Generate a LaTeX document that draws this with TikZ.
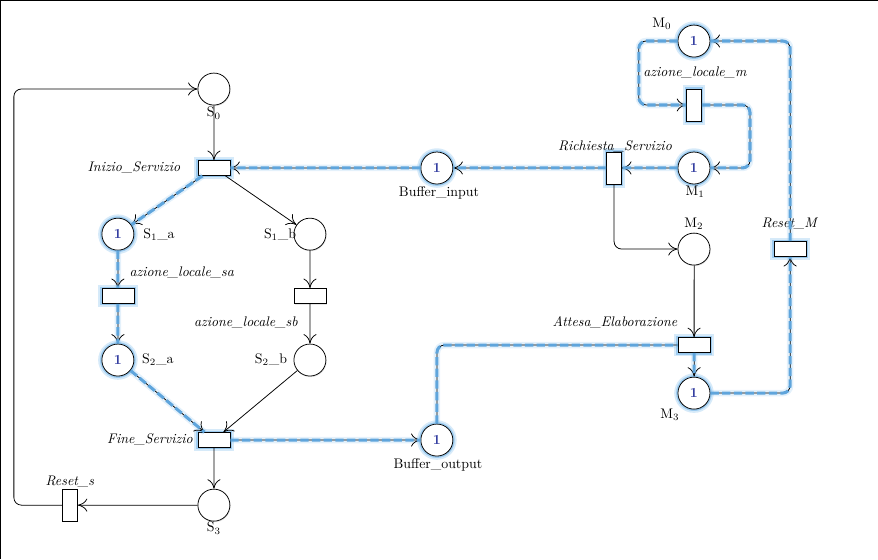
\documentclass[tikz,border=0pt]{standalone}
\usepackage{tikz}
\usetikzlibrary{shapes, positioning, arrows.meta, shadows}

\definecolor{glow}{RGB}{120,185,235}
\definecolor{dashblue}{RGB}{95,165,220}
\definecolor{tokblue}{RGB}{50,60,160}

\begin{document}
\begin{tikzpicture}[scale=1.35, line width=0.55pt, >={To[length=2.4mm, width=3.3mm]},
    place/.style={circle, draw, fill=white, minimum size=8.1mm, inner sep=0pt, drop shadow={opacity=0.2, shadow xshift=0.5pt, shadow yshift=-0.8pt}},
    transh/.style={rectangle, draw, fill=white, minimum width=8.1mm, minimum height=3.8mm, inner sep=0pt, drop shadow={opacity=0.2, shadow xshift=0.5pt, shadow yshift=-0.8pt}},
    transv/.style={transh, minimum width=3.8mm, minimum height=8.1mm},
    active/.style={preaction={draw=glow, line width=5.4pt, opacity=0.3}, preaction={draw=glow, line width=2.7pt, opacity=0.6}},
    tok/.style={text=tokblue, font=\bfseries},
    lbl/.style={inner sep=0pt},
    hl/.style={->, preaction={draw=glow, line width=4.7pt, opacity=0.2, -}, postaction={draw=dashblue, line width=2.2pt, dash pattern=on 6pt off 2.4pt, -}}]
        \useasboundingbox (0,0) rectangle (16.46,10.48);
        \draw[line width=1.1pt] (0,0) -- (0,10.48) -- (16.46,10.48);

        % servizio
        \node[place] (s0) at (4.01, 8.81) {};
        \node[transh, active] (ini) at (4.01, 7.33) {};
        \node[place, active, tok] (s1a) at (2.21, 6.09) {1};
        \node[place] (s1b) at (5.81, 6.09) {};
        \node[transh, active] (tsa) at (2.21, 4.93) {};
        \node[transh] (tsb) at (5.81, 4.93) {};
        \node[place, active, tok] (s2a) at (2.21, 3.73) {1};
        \node[place] (s2b) at (5.81, 3.73) {};
        \node[transh, active] (fine) at (4.01, 2.23) {};
        \node[place] (s3) at (4.01, 1.01) {};
        \node[transv] (rs) at (1.31, 1.01) {};
        \coordinate (lret) at (0.26, 8.81);

        % buffer
        \node[place, active, tok] (bin) at (8.19, 7.33) {1};
        \node[place, active, tok] (bout) at (8.19, 2.23) {1};

        % macchina
        \node[transv, active] (rich) at (11.51, 7.33) {};
        \node[place, active, tok] (m0) at (13.01, 9.71) {1};
        \node[transv, active] (tm) at (13.01, 8.51) {};
        \node[place, active, tok] (m1) at (13.01, 7.33) {1};
        \node[place] (m2) at (13.01, 5.81) {};
        \node[transh, active] (att) at (13.01, 4.01) {};
        \node[place, active, tok] (m3) at (13.01, 3.11) {1};
        \node[transh, active] (rm) at (14.81, 5.81) {};

        % etichette
        \node[lbl] (ls0) at (4.01, 8.36) {S$_0$};
        \node[lbl] (lini) at (2.51, 7.33) {\textit{Inizio\_Servizio}};
        \node[lbl] (ls1a) at (2.98, 6.09) {S$_1$\_a};
        \node[lbl] (ls1b) at (5.25, 6.09) {S$_1$\_b};
        \node[lbl] (ltsa) at (3.41, 5.36) {\textit{azione\_locale\_sa}};
        \node[lbl] (ltsb) at (4.61, 4.44) {\textit{azione\_locale\_sb}};
        \node[lbl] (ls2a) at (2.96, 3.73) {S$_2$\_a};
        \node[lbl] (ls2b) at (5.08, 3.73) {S$_2$\_b};
        \node[lbl] (lfine) at (2.81, 2.23) {\textit{Fine\_Servizio}};
        \node[lbl] (ls3) at (4.01, 0.58) {S$_3$};
        \node[lbl] (lrs) at (1.31, 1.44) {\textit{Reset\_s}};
        \node[lbl] (lbin) at (8.23, 6.86) {Buffer\_input};
        \node[lbl] (lbout) at (8.21, 1.76) {Buffer\_output};
        \node[lbl] (lrich) at (11.53, 7.74) {\textit{Richiesta\_Servizio}};
        \node[lbl] (lm0) at (12.41, 10.03) {M$_0$};
        \node[lbl] (ltm) at (13.03, 9.11) {\textit{azione\_locale\_m}};
        \node[lbl] (lm1) at (13.03, 6.88) {M$_1$};
        \node[lbl] (lm2) at (13.01, 6.28) {M$_2$};
        \node[lbl] (lrm) at (14.81, 6.28) {\textit{Reset\_M}};
        \node[lbl] (latt) at (11.53, 4.44) {\textit{Attesa\_Elaborazione}};
        \node[lbl] (lm3) at (12.56, 2.70) {M$_3$};

        % archi
        \draw[->] (s0) -- (ini);
        \draw[hl] (bin) -- (ini);
        \draw[hl] (ini) -- (s1a);
        \draw[->] (ini) -- (s1b);
        \draw[hl] (s1a) -- (tsa);
        \draw[->] (s1b) -- (tsb);
        \draw[hl] (tsa) -- (s2a);
        \draw[->] (tsb) -- (s2b);
        \draw[hl] (s2a) -- (fine);
        \draw[->] (s2b) -- (fine);
        \draw[->] (fine) -- (s3);
        \draw[hl] (fine) -- (bout);
        \draw[->] (s3) -- (rs);
        \draw[->, rounded corners=5.4pt] (rs.west) -| (lret) -- (s0.west);

        \draw[hl] (m1) -- (rich);
        \draw[hl] (rich) -- (bin);
        \draw[->, rounded corners=5.4pt] (rich.south) |- (m2.west);
        \draw[->] (m2) -- (att);
        \draw[hl, -, rounded corners=5.4pt] (bout.north) |- (att.west);
        \draw[hl] (att) -- (m3);
        \draw[hl, rounded corners=5.4pt] (m3.east) -| (rm.south);
        \draw[hl, rounded corners=5.4pt] (rm.north) |- (m0.east);
        \draw[hl, rounded corners=5.4pt] (m0.west) -- ++(-0.73,0) |- (tm.west);
        \draw[hl, rounded corners=5.4pt] (tm.east) -- ++(0.9,0) |- (m1.east);
    \end{tikzpicture}
\end{document}
